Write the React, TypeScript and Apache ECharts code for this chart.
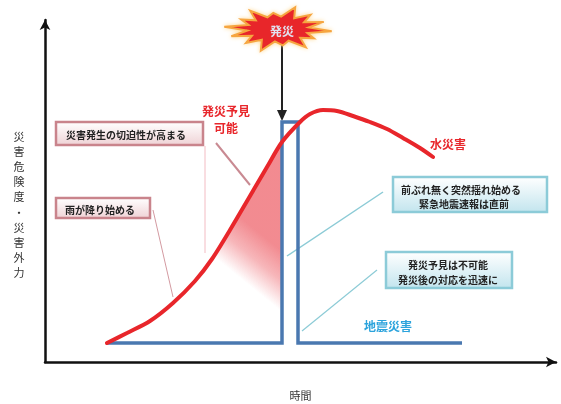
import React, { useEffect, useRef } from "react";
import * as echarts from "echarts";

// ---- data (time units along x, risk units along y) ----
const floodTime = [62, 82, 105, 128, 150, 167, 185, 205, 222, 237, 255, 265, 278, 292, 308, 325, 342, 358, 375, 388];
const floodRisk = [19, 29, 41, 59, 81, 103, 132, 166, 195, 220, 240, 248, 252, 251, 246, 240, 233, 224, 214, 205];
const foreseeStart = 5; // index where "発災予見可能" shading begins
const foreseeEnd = 9; // index at the moment of disaster
const quakeTime = [62, 237, 237, 253, 253, 417];
const quakeRisk = [19, 19, 240, 240, 19, 19];

const xAxisTitle = "時間";
const yAxisTitle = "災害危険度・災害外力";
const floodLabel = "水災害";
const quakeLabel = "地震災害";
const disasterLabel = "発災";
const foreseeLabel = ["発災予見", "可能"];
const box1Text = "災害発生の切迫性が高まる";
const box2Text = "雨が降り始める";
const box3Text = ["前ぶれ無く突然揺れ始める", "緊急地震速報は直前"];
const box4Text = ["発災予見は不可能", "発災後の対応を迅速に"];

const FONT = '"Noto Sans CJK JP", "Noto Sans", sans-serif';

function starPoints(cx: number, cy: number) {
  const f = [1.0, 0.78, 0.95, 0.72, 1.0, 0.85, 0.92, 1.0, 0.8, 0.95, 0.7, 1.0, 0.86, 0.9];
  const pts: number[][] = [];
  const n = f.length;
  for (let i = 0; i < n * 2; i++) {
    const a = (i * Math.PI) / n + 0.1;
    const outer = i % 2 === 0;
    const k = outer ? f[i / 2] : 1;
    const rx = outer ? 54 * k : 31;
    const ry = outer ? 23 * k : 12.5;
    pts.push([cx + rx * Math.cos(a), cy + ry * Math.sin(a)]);
  }
  return pts;
}

export default function App() {
  const ref = useRef<HTMLDivElement>(null);
  useEffect(() => {
    if (!ref.current) return;
    const chart = echarts.init(ref.current, null, { renderer: "svg" });
    const pinkFill = new echarts.graphic.LinearGradient(0, 0, 0, 1, [
      { offset: 0, color: "#ffffff" },
      { offset: 1, color: "#efd3d6" },
    ]);
    const cyanFill = new echarts.graphic.LinearGradient(0, 0, 0, 1, [
      { offset: 0, color: "#ffffff" },
      { offset: 1, color: "#c3e5ee" },
    ]);
    const boxText = (text: string, x: number, y: number, align = "left") => ({
      type: "text",
      x,
      y,
      style: { text, fill: "#222", font: `bold 10px ${FONT}`, align, verticalAlign: "middle" },
    });
    const redText = (text: string, x: number, y: number, color = "#e8262b") => ({
      type: "text",
      x,
      y,
      style: { text, fill: color, font: `bold 12px ${FONT}`, align: "center", verticalAlign: "middle" },
    });

    const shadeData = floodTime
      .slice(foreseeStart, foreseeEnd + 1)
      .map((t, i) => [t, floodRisk[foreseeStart + i]]);

    const axisCommon = {
      type: "value",
      min: 0,
      axisLine: { show: true, symbol: ["none", "arrow"], symbolSize: [8, 10], lineStyle: { color: "#111", width: 2.5 } },
      axisTick: { show: false },
      axisLabel: { show: false },
      splitLine: { show: false },
    };

    chart.setOption({
      animation: false,
      grid: { left: 45, right: 5, top: 20, bottom: 42, containLabel: false, outerBoundsMode: "none" },
      xAxis: {
        ...axisCommon,
        max: 511,
        name: xAxisTitle,
        nameLocation: "middle",
        nameGap: 27,
        nameTextStyle: { fontFamily: FONT, fontSize: 11, color: "#333" },
      },
      yAxis: { ...axisCommon, max: 342 },
      series: [
        {
          type: "line",
          name: "発災予見可能",
          data: shadeData,
          smooth: 0.3,
          symbol: "none",
          lineStyle: { width: 0, opacity: 0 },
          areaStyle: {
            color: new echarts.graphic.LinearGradient(0.486, 0.64, 0.553, 0.38, [
              { offset: 0, color: "rgba(232,48,58,0)" },
              { offset: 0.5, color: "rgba(232,48,58,0.5)" },
              { offset: 1, color: "rgba(232,48,58,0.8)" },
            ]),
          },
          z: 1,
        },
        {
          type: "line",
          name: quakeLabel,
          data: quakeTime.map((t, i) => [t, quakeRisk[i]]),
          symbol: "none",
          lineStyle: { color: "#4a78b0", width: 3.5, join: "miter" },
          z: 2,
        },
        {
          type: "line",
          name: floodLabel,
          data: floodTime.map((t, i) => [t, floodRisk[i]]),
          smooth: 0.3,
          symbol: "none",
          lineStyle: { color: "#e8262b", width: 4, cap: "round" },
          z: 3,
        },
      ],
      graphic: [
        // y axis title, written vertically
        {
          type: "text",
          x: 19,
          y: 204,
          style: {
            text: yAxisTitle.split("").join("\n"),
            fill: "#333",
            font: `11px ${FONT}`,
            lineHeight: 15.2,
            align: "center",
            verticalAlign: "middle",
          },
        },
        // faint marker line
        { type: "line", shape: { x1: 205, y1: 146, x2: 205, y2: 253 }, style: { stroke: "#f3bcc3", lineWidth: 1 } },
        // leader lines
        { type: "line", shape: { x1: 216, y1: 143, x2: 250, y2: 185 }, style: { stroke: "#c98a92", lineWidth: 2 } },
        { type: "line", shape: { x1: 153, y1: 210, x2: 173, y2: 297 }, style: { stroke: "#d39aa1", lineWidth: 1 } },
        { type: "line", shape: { x1: 383, y1: 192, x2: 287, y2: 256 }, style: { stroke: "#8ccbd6", lineWidth: 1.5 } },
        { type: "line", shape: { x1: 377, y1: 270, x2: 302, y2: 331 }, style: { stroke: "#8ccbd6", lineWidth: 1.2 } },
        // boxes
        { type: "rect", shape: { x: 56, y: 122, width: 147, height: 23 }, style: { fill: pinkFill, stroke: "#c9848c", lineWidth: 2.5 } },
        boxText(box1Text, 66, 134),
        { type: "rect", shape: { x: 56, y: 198, width: 94, height: 20 }, style: { fill: pinkFill, stroke: "#c9848c", lineWidth: 2.5 } },
        boxText(box2Text, 65, 209),
        { type: "rect", shape: { x: 393, y: 177, width: 154, height: 35 }, style: { fill: cyanFill, stroke: "#8ccbd8", lineWidth: 2.5 } },
        boxText(box3Text[0], 461, 189, "center"),
        boxText(box3Text[1], 464, 203, "center"),
        { type: "rect", shape: { x: 386, y: 252, width: 126, height: 36 }, style: { fill: cyanFill, stroke: "#8ccbd8", lineWidth: 2.5 } },
        boxText(box4Text[0], 448, 264, "center"),
        boxText(box4Text[1], 448, 279, "center"),
        // labels
        redText(foreseeLabel[0], 226, 110),
        redText(foreseeLabel[1], 226, 127),
        redText(floodLabel, 448, 143),
        redText(quakeLabel, 388, 325, "#2ba3dc"),
        // disaster starburst + arrow
        { type: "line", shape: { x1: 282, y1: 42, x2: 282, y2: 112 }, style: { stroke: "#222", lineWidth: 2 } },
        { type: "polygon", shape: { points: [[277, 110], [287, 110], [282, 121]] }, style: { fill: "#222" } },
        {
          type: "polygon",
          shape: { points: starPoints(278, 29) },
          style: { fill: "#e8262b", stroke: "#f6a640", lineWidth: 2, shadowBlur: 4, shadowColor: "#ffd58a" },
        },
        {
          type: "text",
          x: 282,
          y: 30,
          style: { text: disasterLabel, fill: "#e2e2f0", font: `bold 12px ${FONT}`, align: "center", verticalAlign: "middle" },
        },
      ],
    });
    return () => chart.dispose();
  }, []);
  return <div ref={ref} style={{ position: "fixed", left: 0, top: 0, width: 561, height: 404 }} />;
}
